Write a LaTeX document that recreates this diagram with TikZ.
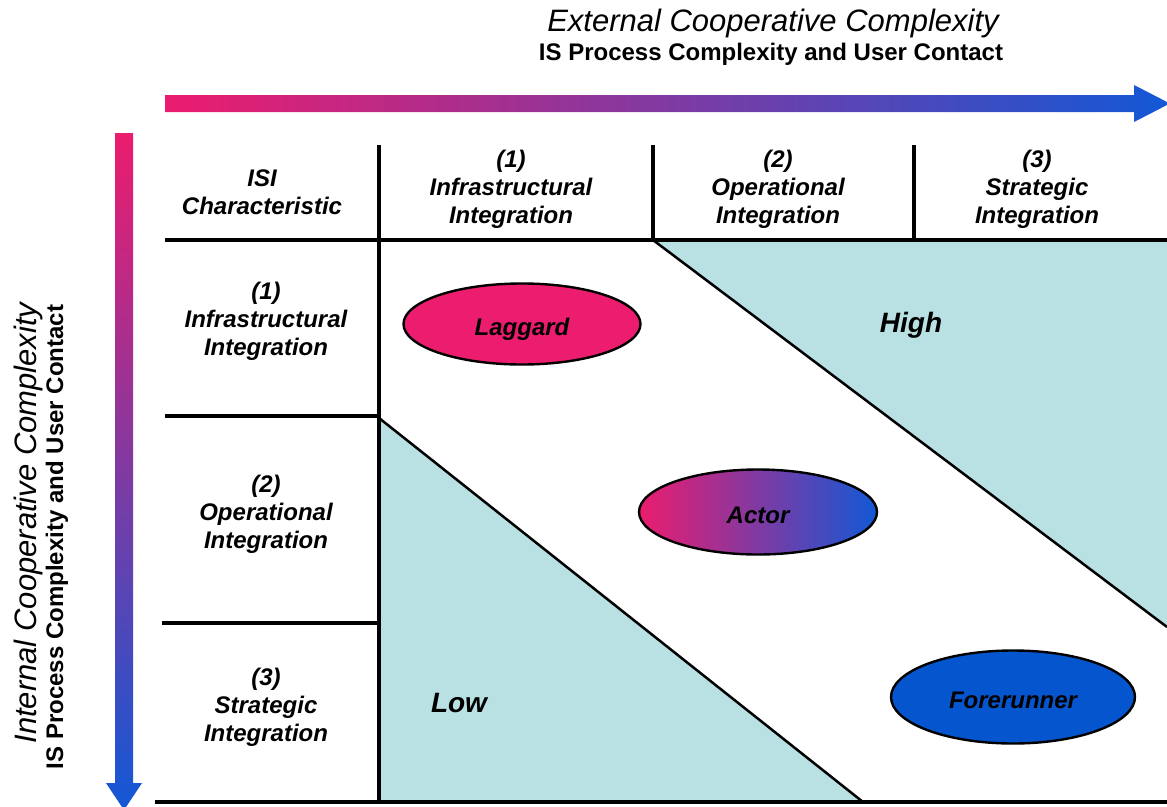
\documentclass[tikz,border=0pt]{standalone}
\usepackage{fontspec}
\setmainfont{Liberation Sans}
\usetikzlibrary{shapes.geometric}
\definecolor{hot}{HTML}{EC1C6E}
\definecolor{cool}{HTML}{1358D6}
\definecolor{zone}{HTML}{B9E0E3}
\definecolor{lead}{HTML}{0556CE}
\begin{document}
\begin{tikzpicture}[x=1pt,y=-1pt,
  cell/.style={align=center, font=\fontsize{24}{28}\selectfont\bfseries\itshape, inner sep=0pt},
  zonelabel/.style={font=\fontsize{28}{32}\selectfont\bfseries\itshape, inner sep=0pt,
    text height=20pt, text depth=0.5pt},
  grid/.style={line width=3.2pt},
  edge/.style={line width=2.5pt},
  blob/.style={ellipse, draw, line width=2.4pt, inner sep=0pt,
    text height=24pt, text depth=0.5pt,
    font=\fontsize{24}{28}\selectfont\bfseries\itshape}]
\useasboundingbox (0,0) rectangle (1167,806);

% axis arrows with colour ramps
\shade[left color=hot, right color=cool]
  (165,95) -- (1134,95) -- (1134,85) -- (1170,103.5) -- (1134,122)
  -- (1134,112) -- (165,112) -- cycle;
\shade[top color=hot, bottom color=cool]
  (115,133) -- (133,133) -- (133,783) -- (142,783) -- (124,810)
  -- (106,783) -- (115,783) -- cycle;

% axis titles
\node[font=\fontsize{31}{36}\selectfont\itshape, anchor=base, inner sep=0pt]
  (xtitle) at (773,31) {External Cooperative Complexity};
\node[font=\fontsize{24}{28}\selectfont\bfseries, anchor=base, inner sep=0pt]
  (xsub) at (771,60) {IS Process Complexity and User Contact};
\node[font=\fontsize{31}{36}\selectfont\itshape, anchor=base, rotate=90, inner sep=0pt]
  (ytitle) at (36,523) {Internal Cooperative Complexity};
\node[font=\fontsize{24}{28}\selectfont\bfseries, anchor=base, rotate=90, inner sep=0pt]
  (ysub) at (63,537) {IS Process Complexity and User Contact};

% shaded regions
\fill[zone] (653,240) -- (1167,240) -- (1167,627) -- cycle;
\draw[edge] (653,240) -- (1167,627);
\fill[zone] (379,418) -- (863,802) -- (379,802) -- cycle;
\draw[edge] (379,418) -- (863,802);

% table rules
\draw[grid] (379,145) -- (379,802);
\draw[grid] (653,145) -- (653,240);
\draw[grid] (914,145) -- (914,240);
\draw[line width=4.2pt] (165,240) -- (379,240);
\draw[grid] (379,240) -- (1167,240);
\draw[grid] (165,416) -- (379,416);
\draw[grid] (162,623) -- (379,623);
\draw[line width=3.8pt] (155,802) -- (393,802);
\draw[grid] (393,802) -- (1167,802);

% header cells
\node[cell] (corner) at (262,192) {ISI\\Characteristic};
\node[cell] (col1) at (511,189) {(1)\\Infrastructural\\Integration};
\node[cell] (col2) at (778,189) {(2)\\Operational\\Integration};
\node[cell] (col3) at (1037,189) {(3)\\Strategic\\Integration};
\node[cell] (row1) at (266,321) {(1)\\Infrastructural\\Integration};
\node[cell] (row2) at (266,514) {(2)\\Operational\\Integration};
\node[cell] (row3) at (266,707) {(3)\\Strategic\\Integration};

% region labels
\node[zonelabel] (high) at (911,323) {High};
\node[zonelabel] (low) at (459,703) {Low};

% adopter types
\node[blob, fill=hot, minimum width=237pt, minimum height=81pt]
  (laggard) at (522,324) {Laggard};
\node[blob, left color=hot, right color=cool, minimum width=238pt, minimum height=85pt]
  (actor) at (758,512) {Actor};
\node[blob, fill=lead, minimum width=244pt, minimum height=93pt]
  (forerunner) at (1013,697) {Forerunner};
\end{tikzpicture}
\end{document}
